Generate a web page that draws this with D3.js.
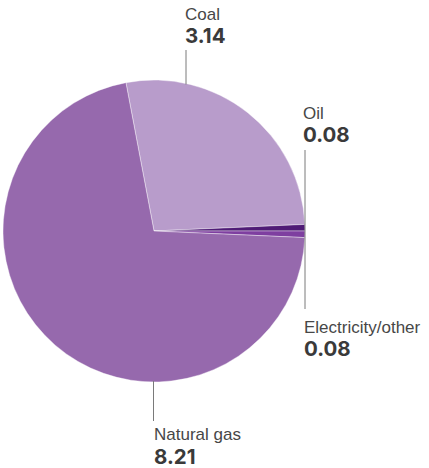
<!DOCTYPE html>
<html><head><meta charset="utf-8">
<script src="https://cdn.jsdelivr.net/npm/d3@7"></script>
<style>body{margin:0;background:#fff}svg{display:block}</style>
</head><body>
<svg id="c" width="429" height="468"></svg>
<script>
const categories = ["Coal", "Oil", "Electricity/other", "Natural gas"];
const values = [3.14, 0.08, 0.08, 8.21];
const valueLabels = ["3.14", "0.08", "0.08", "8.21"];
const colors = ["#b89ccb", "#4f1b76", "#7e3fa0", "#9669ad"];

const svg = d3.select("#c");
const cx = 154, cy = 231, r = 151;
const total = d3.sum(values);
const coalDeg = values[0] / total * 360;
const startDeg = 87.5 - coalDeg;
const startA = startDeg * Math.PI / 180;

const pie = d3.pie().sort(null).value(d => d)
  .startAngle(startA).endAngle(startA + 2 * Math.PI);
const arcs = pie(values);
const arc = d3.arc().innerRadius(0).outerRadius(r);

const g = svg.append("g").attr("transform", `translate(${cx},${cy})`);
g.selectAll("path").data(arcs).enter().append("path")
  .attr("d", arc)
  .attr("fill", (d, i) => colors[i])
  .attr("stroke", "#fff").attr("stroke-width", 0.4);

const lineColor = "#7a7a7a";
const labelFont = "'Liberation Sans', Arial, sans-serif";
const valueFont = "Inter, 'Noto Sans', sans-serif";
// Coal: vertical line up from arc
svg.append("line").attr("x1", 186).attr("x2", 186).attr("y1", 50).attr("y2", cy - Math.sqrt(r*r - (186-cx)*(186-cx)) + 1)
  .attr("stroke", lineColor).attr("stroke-width", 1);
// Oil & Electricity: shared vertical line at right edge
svg.append("line").attr("x1", 305).attr("x2", 305).attr("y1", 150).attr("y2", 309)
  .attr("stroke", lineColor).attr("stroke-width", 1);
// Natural gas: down from bottom
svg.append("line").attr("x1", 153.5).attr("x2", 153.5).attr("y1", cy + r - 1).attr("y2", 421)
  .attr("stroke", lineColor).attr("stroke-width", 1);

const labelPos = [[185, 19.5, 43], [303, 118.5, 142], [304, 332.5, 356], [154, 440, 463.5]];
labelPos.forEach((p, i) => {
  svg.append("text").attr("x", p[0]).attr("y", p[1])
    .attr("font-family", labelFont).attr("font-size", 17).attr("fill", "#474747")
    .text(categories[i]);
  svg.append("text").attr("x", p[0]).attr("y", p[2])
    .attr("font-family", valueFont).attr("font-size", 20.5).attr("font-weight", 700).attr("fill", "#3a3a3a")
    .text(valueLabels[i]);
});
</script>
</body></html>
